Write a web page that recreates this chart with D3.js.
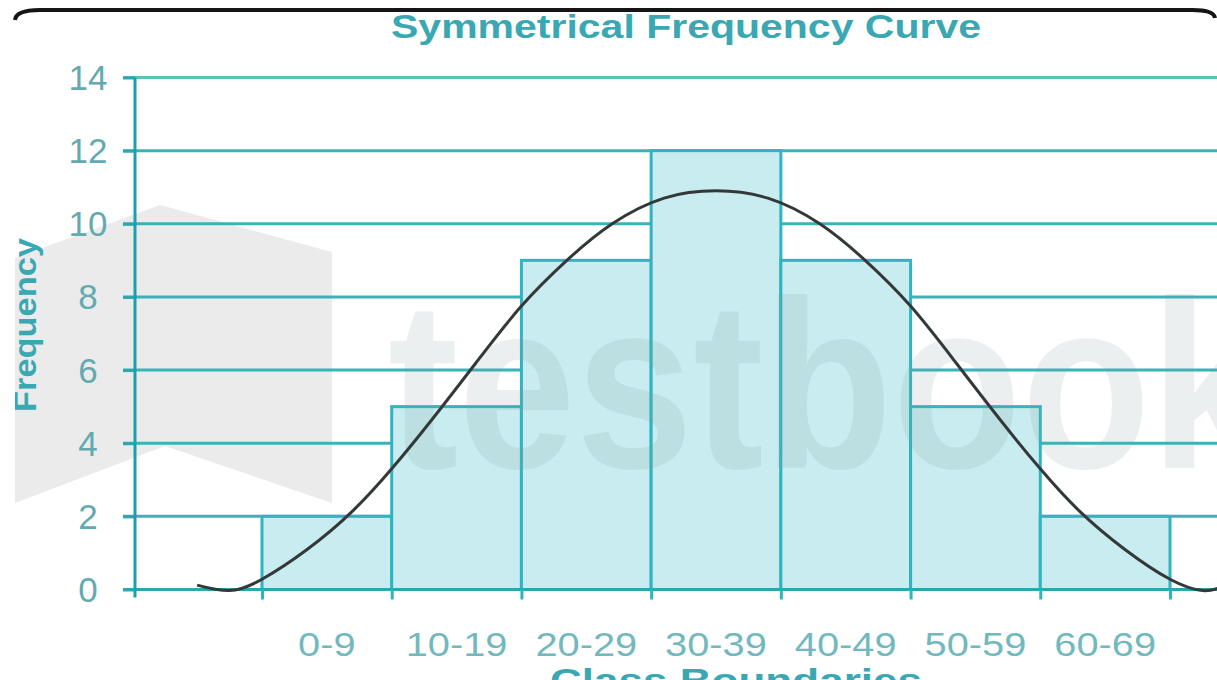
<!DOCTYPE html>
<html>
<head>
<meta charset="utf-8">
<script src="https://cdn.jsdelivr.net/npm/d3@7"></script>
<style>
  html, body { margin: 0; padding: 0; background: #ffffff; }
  svg { display: block; font-family: "Liberation Sans", Arial, sans-serif; }
</style>
</head>
<body>
<svg id="chart" width="1217" height="680"></svg>
<script>
// Class intervals and their frequencies
const classLabels = ["0-9", "10-19", "20-29", "30-39", "40-49", "50-59", "60-69"];
const classLower = [0, 10, 20, 30, 40, 50, 60];
const classWidth = 10;
const frequencies = [2, 5, 9, 12, 9, 5, 2];

// Class boundaries marked on the horizontal axis
const boundaries = [0, 10, 20, 30, 40, 50, 60, 70];

// Frequency axis ticks
const yTicks = [0, 2, 4, 6, 8, 10, 12, 14];

// Smooth frequency curve traced over the histogram (class value, frequency)
const curveX = [-5.0, -2.5, 0, 3.5, 7.0, 10.0, 13.0, 16.5, 20.0, 23.5, 27.0, 31.0, 35.0,
                39.0, 43.0, 46.5, 50.0, 53.5, 57.0, 60.0, 63.0, 66.5, 70.0, 72.5, 73.8];
const curveY = [0.12, -0.03, 0.28, 1.1, 2.15, 3.3, 4.6, 6.2, 7.75, 9.0, 10.0, 10.7, 10.9,
                10.7, 10.0, 9.0, 7.75, 6.2, 4.6, 3.3, 2.15, 1.1, 0.28, -0.03, 0.05];

const W = 1217, H = 680;
const svg = d3.select("#chart");

const x = d3.scaleLinear().domain([0, 70]).range([262, 1170]);
const y = d3.scaleLinear().domain([0, 14]).range([589.5, 77.5]);
const axisX = 135;       // position of the frequency axis
const gridLeft = 123;    // left end of tick marks / grid lines

// stretch helper: widen a text node horizontally by a factor
function stretch(sel, factor) {
  sel.each(function () {
    const len = this.getComputedTextLength();
    d3.select(this).attr("textLength", len * factor).attr("lengthAdjust", "spacingAndGlyphs");
  });
}

// background
svg.append("rect").attr("width", W).attr("height", H).attr("fill", "#ffffff");

// faint logo shape behind the plot
svg.append("path")
  .attr("d", "M15,258 L160,205 L332,252 L332,503 L165,446 L15,503 Z")
  .attr("fill", "#ebebeb");

// horizontal grid lines
svg.append("g").selectAll("line")
  .data(yTicks.filter(d => d > 0))
  .join("line")
  .attr("x1", gridLeft).attr("x2", W)
  .attr("y1", d => y(d)).attr("y2", d => y(d))
  .attr("stroke", d => d === 14 ? "#5cc3b4" : "#3bb2b9")
  .attr("stroke-width", 3);

// histogram bars
svg.append("g").selectAll("rect")
  .data(frequencies)
  .join("rect")
  .attr("x", (d, i) => x(classLower[i]))
  .attr("width", (d, i) => x(classLower[i] + classWidth) - x(classLower[i]))
  .attr("y", d => y(d))
  .attr("height", d => y(0) - y(d))
  .attr("fill", "#c8ecef")
  .attr("stroke", "#2fb5c0")
  .attr("stroke-width", 3);

// watermark lettering
svg.append("text")
  .attr("x", 388).attr("y", 468)
  .attr("font-size", 240).attr("font-weight", "bold")
  .attr("fill", "#7f9c9e").attr("opacity", 0.15)
  .attr("textLength", 880).attr("lengthAdjust", "spacingAndGlyphs")
  .text("testbook");

// baseline (frequency 0)
svg.append("line")
  .attr("x1", gridLeft).attr("x2", W)
  .attr("y1", y(0)).attr("y2", y(0))
  .attr("stroke", "#2ea6b0").attr("stroke-width", 3);

// frequency curve
const pts = curveX.map((v, i) => [v, curveY[i]]);
svg.append("path")
  .datum(pts)
  .attr("fill", "none")
  .attr("stroke", "#333838")
  .attr("stroke-width", 3)
  .attr("d", d3.line().x(d => x(d[0])).y(d => y(d[1])).curve(d3.curveNatural));

// class boundary ticks
const xAxis = svg.append("g")
  .attr("transform", `translate(0,${y(0)})`)
  .call(d3.axisBottom(x).tickValues(boundaries).tickSize(10).tickFormat(""));
xAxis.select(".domain").remove();
xAxis.selectAll("line").attr("stroke", "#2fb5c0").attr("stroke-width", 3);

// frequency axis line and tick marks
const yAxis = svg.append("g")
  .attr("transform", `translate(${axisX},0)`)
  .call(d3.axisLeft(y).tickValues(yTicks).tickSize(axisX - gridLeft).tickFormat(""));
yAxis.select(".domain").remove();
yAxis.selectAll("line").attr("stroke", "#2ea6b0").attr("stroke-width", 3);
svg.append("line")
  .attr("x1", axisX).attr("x2", axisX)
  .attr("y1", y(14)).attr("y2", y(0) + 8)
  .attr("stroke", "#1f9db0").attr("stroke-width", 3);

// frequency tick labels
svg.append("g").selectAll("text")
  .data(yTicks)
  .join("text")
  .attr("x", 88)
  .attr("y", d => y(d) + 12.5)
  .attr("text-anchor", "middle")
  .attr("font-size", 35)
  .attr("fill", "#62aab0")
  .text(d => d);

// class labels
svg.append("g").selectAll("text")
  .data(classLabels)
  .join("text")
  .attr("x", (d, i) => x(classLower[i] + classWidth / 2))
  .attr("y", 656)
  .attr("text-anchor", "middle")
  .attr("font-size", 34)
  .attr("fill", "#72b9be")
  .text(d => d)
  .call(stretch, 1.17);

// title
svg.append("text")
  .attr("x", 391).attr("y", 38)
  .attr("font-size", 33).attr("font-weight", "bold")
  .attr("fill", "#3aa8b2")
  .attr("textLength", 590).attr("lengthAdjust", "spacingAndGlyphs")
  .text("Symmetrical Frequency Curve");

// horizontal axis title
svg.append("text")
  .attr("x", 550).attr("y", 692)
  .attr("font-size", 33).attr("font-weight", "bold")
  .attr("fill", "#3aa8b2")
  .attr("textLength", 372).attr("lengthAdjust", "spacingAndGlyphs")
  .text("Class Boundaries");

// vertical axis title
svg.append("text")
  .attr("transform", "translate(36,325) rotate(-90)")
  .attr("text-anchor", "middle")
  .attr("font-size", 32).attr("font-weight", "bold")
  .attr("fill", "#3aa8b2")
  .attr("textLength", 174).attr("lengthAdjust", "spacingAndGlyphs")
  .text("Frequency");

// left margin and top frame edge
svg.append("rect").attr("x", 0).attr("y", 0).attr("width", 15).attr("height", H).attr("fill", "#ffffff");
svg.append("path")
  .attr("d", "M15,20 Q16,10 40,10 L1192,10 Q1214,10 1215,18")
  .attr("fill", "none").attr("stroke", "#151515").attr("stroke-width", 4);
</script>
</body>
</html>
